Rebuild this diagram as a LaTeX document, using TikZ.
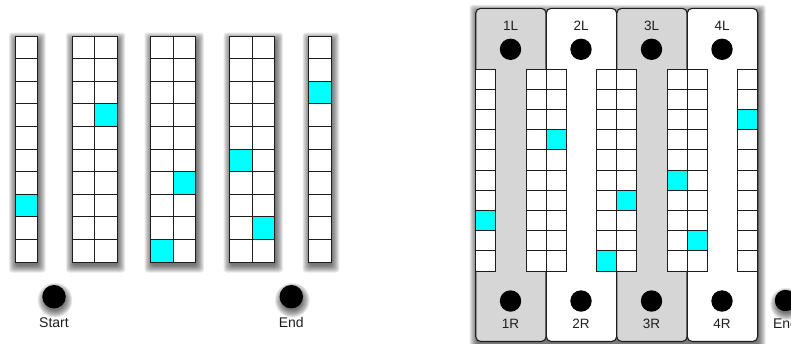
\documentclass[tikz,border=0pt]{standalone}
\usepackage{fontspec}
\setmainfont{Liberation Sans}
\definecolor{cellcyan}{RGB}{0,255,255}
\definecolor{panelgray}{RGB}{214,214,214}
\definecolor{inkc}{RGB}{30,30,30}
\tikzset{
  cellline/.style={draw=inkc, line width=1pt},
  shadowlayer/.style={fill=black, opacity=0.09},
  dot/.style={circle, fill=black, inner sep=0pt, minimum size=#1},
  lbl/.style={anchor=base, text=inkc, font=\fontsize{14}{16}\selectfont, inner sep=0pt},
  plbl/.style={anchor=base, text=inkc, font=\fontsize{13.5}{16}\selectfont, inner sep=0pt},
  panelbox/.style={draw=inkc, line width=1.1pt, rounded corners=5pt},
}
% soft shadow of a rectangle (x1,y1)-(x2,y2), y grows downwards
\newcommand\shadowrect[4]{%
  \foreach \s in {0,...,7} {
    \fill[shadowlayer, rounded corners=3pt]
      ({#1+1-\s*1.0},{#2+3.5-\s*1.0}) rectangle ({#3+1+\s*1.0},{#4+3.5+\s*1.0});
  }%
}
% soft shadow of a circle at (x,y) with radius r
\newcommand\shadowcirc[3]{%
  \foreach \s in {0,...,7} {
    \pgfmathsetmacro\rr{#3-1.5+\s*1.0}
    \fill[shadowlayer] ({#1+1},{#2+3.5}) circle[radius=\rr pt];
  }%
}
\newcommand\mygrid[5]{%
  \fill[white] (#1,#2) rectangle ++(#3*#4,10*#4);
  \foreach \c/\r in {#5} \fill[cellcyan] (#1+\c*#4,#2+\r*#4) rectangle ++(#4,#4);
  \foreach \i in {1,...,9} \draw[cellline] (#1,#2+\i*#4) -- ++(#3*#4,0);
  \ifnum#3=2 \draw[cellline] (#1+#4,#2) -- ++(0,10*#4);\fi
  \draw[cellline] (#1,#2) rectangle ++(#3*#4,10*#4);
}
\begin{document}
\begin{tikzpicture}[x=1pt,y=-1pt]
\useasboundingbox (0,0) rectangle (791,343);
% ---------- left part ----------
\shadowrect{15}{36}{37.6}{262}
\shadowrect{72}{36}{117.2}{262}
\shadowrect{150.7}{36}{195.9}{262}
\shadowrect{229.7}{36}{274.9}{262}
\shadowrect{308.7}{36}{331.3}{262}
\mygrid{15}{36}{1}{22.6}{0/7}
\mygrid{72}{36}{2}{22.6}{1/3}
\mygrid{150.7}{36}{2}{22.6}{1/6,0/9}
\mygrid{229.7}{36}{2}{22.6}{0/5,1/8}
\mygrid{308.7}{36}{1}{22.6}{0/2}
\shadowcirc{54}{296.7}{11.8}
\shadowcirc{291.3}{296.7}{11.8}
\node[dot=23.5pt] (start) at (54,296.7) {};
\node[dot=23.5pt] (endl) at (291.3,296.7) {};
\node[lbl] (startlbl) at (54,327) {Start};
\node[lbl] (endllbl) at (291.3,327) {End};
% ---------- right part ----------
\shadowrect{475.7}{8.3}{757.7}{341.5}
\foreach \k in {0,1,2,3} {
  \pgfmathsetmacro\px{475.7+70.5*\k}
  \ifodd\k
    \draw[panelbox, fill=white] (\px,8.3) rectangle ++(70.5,333.2);
  \else
    \draw[panelbox, fill=panelgray] (\px,8.3) rectangle ++(70.5,333.2);
  \fi
}
\mygrid{475.7}{69}{1}{20.2}{0/7}
\mygrid{526}{69}{2}{20.2}{1/3}
\mygrid{596.5}{69}{2}{20.2}{1/6,0/9}
\mygrid{667}{69}{2}{20.2}{0/5,1/8}
\mygrid{737.5}{69}{1}{20.2}{0/2}
\foreach \k/\t in {0/1,1/2,2/3,3/4} {
  \node[dot=21.4pt] (top\t) at (510.5+70.5*\k,49.3) {};
  \node[dot=21.4pt] (bot\t) at (510.5+70.5*\k,301) {};
  \node[plbl] (toplbl\t) at (510.5+70.5*\k,30) {\t L};
  \node[plbl] (botlbl\t) at (510.5+70.5*\k,328.3) {\t R};
}
\shadowcirc{785.5}{300.5}{10.7}
\node[dot=21.4pt] (endr) at (785.5,300.5) {};
\node[lbl] (endrlbl) at (785.5,328.3) {End};
\end{tikzpicture}
\end{document}
